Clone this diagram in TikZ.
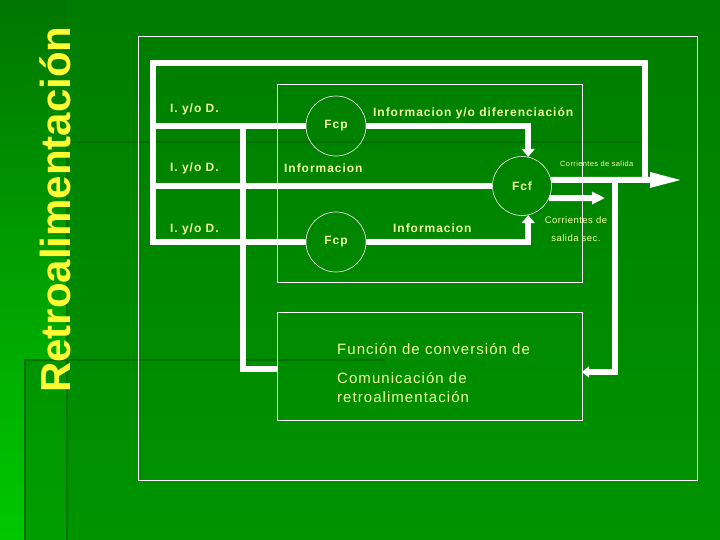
\documentclass[tikz,border=0pt]{standalone}
\usepackage{fontspec}
\setmainfont{Liberation Sans}
\usetikzlibrary{arrows.meta}

\definecolor{bgtop}{RGB}{0,124,0}
\definecolor{bgbot}{RGB}{0,148,0}
\definecolor{striptop}{RGB}{0,118,0}
\definecolor{stripbot}{RGB}{0,200,0}
\definecolor{seam}{RGB}{0,112,0}
\definecolor{titleyellow}{RGB}{255,255,51}
\definecolor{lbltext}{RGB}{240,255,160}

\begin{document}
\begin{tikzpicture}[
    x=1pt, y=-1pt,
    every node/.style={text=lbltext, inner sep=0pt},
    flow/.style={draw=white, line width=6pt, line join=miter},
    frame/.style={draw=white, line width=0.8pt},
    func/.style={circle, draw=white, line width=0.6pt, minimum size=60pt,
        font=\bfseries\fontsize{12}{14}\selectfont\addfontfeatures{LetterSpace=8}},
    lbl/.style={anchor=west,
        font=\bfseries\fontsize{12}{14}\selectfont\addfontfeatures{LetterSpace=8}},
    note/.style={align=center,
        font=\fontsize{9.5}{18}\selectfont\addfontfeatures{LetterSpace=5}},
    body/.style={anchor=west, align=left,
        font=\fontsize{15}{19}\selectfont\addfontfeatures{LetterSpace=7}}
]
    \useasboundingbox (0,0) rectangle (720,540);

    % ==========================
    % BACKGROUND
    % ==========================
    \shade[top color=bgtop, bottom color=bgbot] (0,0) rectangle (720,540);
    \shade[top color=striptop, bottom color=stripbot] (0,0) rectangle (67,540);
    \shade[top color=bgbot, bottom color=bgbot!80!stripbot] (25,360) rectangle (67,540);
    \draw[seam, line width=2pt] (67,540) -- (67,142) -- (642,142);
    \draw[seam, line width=2pt] (25,540) -- (25,360) -- (385,360);

    \node[rotate=90, anchor=base west, text=titleyellow,
        font=\bfseries\fontsize{42}{48}\selectfont] (title) at (70,393) {Retroalimentación};

    % ==========================
    % FRAMES
    % ==========================
    \draw[frame] (138,36) rectangle (697,480);
    \draw[frame] (277,84) rectangle (582,282);
    \node[frame, minimum width=305pt, minimum height=108pt] (conv) at (429.5,366) {};

    % ==========================
    % FUNCTIONS AND LABELS
    % ==========================
    \node[func] (fcpA) at (336,126) {Fcp};
    \node[func] (fcpB) at (336,242) {Fcp};
    \node[func, minimum size=59pt] (fcf) at (522,186) {Fcf};

    \foreach \i/\y in {1/109, 2/168, 3/229}
        \node[lbl] (iod\i) at (170,\y) {I. y/o D.};

    \node[lbl] (infoDif) at (373,113) {Informacion y/o diferenciación};
    \node[lbl] (infoA) at (284,168) {Informacion};
    \node[lbl] (infoB) at (393,228) {Informacion};

    \node[anchor=west, font=\fontsize{7.5}{9}\selectfont\addfontfeatures{LetterSpace=5}]
        (outMain) at (560,164) {Corrientes de salida};
    \node[note] (outSec) at (576,229) {Corrientes de\\salida sec.};

    \node[body] (convTitle) at (337,349) {Función de conversión de};
    \node[body] (convText) at (337,387.5) {Comunicación de\\retroalimentación};

    % ==========================
    % FLOWS
    % ==========================
    \coordinate (loopR) at (645,180);
    \coordinate (loopTL) at (153,63);
    \coordinate (fbTop) at (243,126);
    \coordinate (fbEnd) at (277,369);
    \coordinate (outEnd) at (683,180);
    \coordinate (secEnd) at (605,198);
    \coordinate (fbTap) at (615,180);
    \coordinate (convIn) at (582,372);

    % 1. Return loop over the top and the inputs
    \draw[flow] (loopR) |- (loopTL) |- (fcpB.west);
    \draw[flow] (loopTL |- fcpA.west) -- (fcpA.west);
    \draw[flow] (loopTL |- fcf.west) -- (fcf.west);

    % 2. Branch down to the conversion box
    \draw[flow] (fbTop) |- (fbEnd);

    % 3. Into Fcf
    \draw[flow, -{Triangle[length=8pt,width=13pt]}] (fcpA.east) -| (fcf.78);
    \draw[flow, -{Triangle[length=8pt,width=13pt]}] (fcpB.east) -| (fcf.-78);

    % 4. Outputs
    \draw[flow, -{Triangle[length=33pt,width=14pt]}] (fcf.12) -- (outEnd);
    \draw[flow, -{Triangle[length=13pt,width=12pt]}] (fcf.-24) -- (secEnd);
    \draw[flow, -{Triangle[length=7pt,width=11pt]}] (fbTap) |- (convIn);

\end{tikzpicture}
\end{document}
